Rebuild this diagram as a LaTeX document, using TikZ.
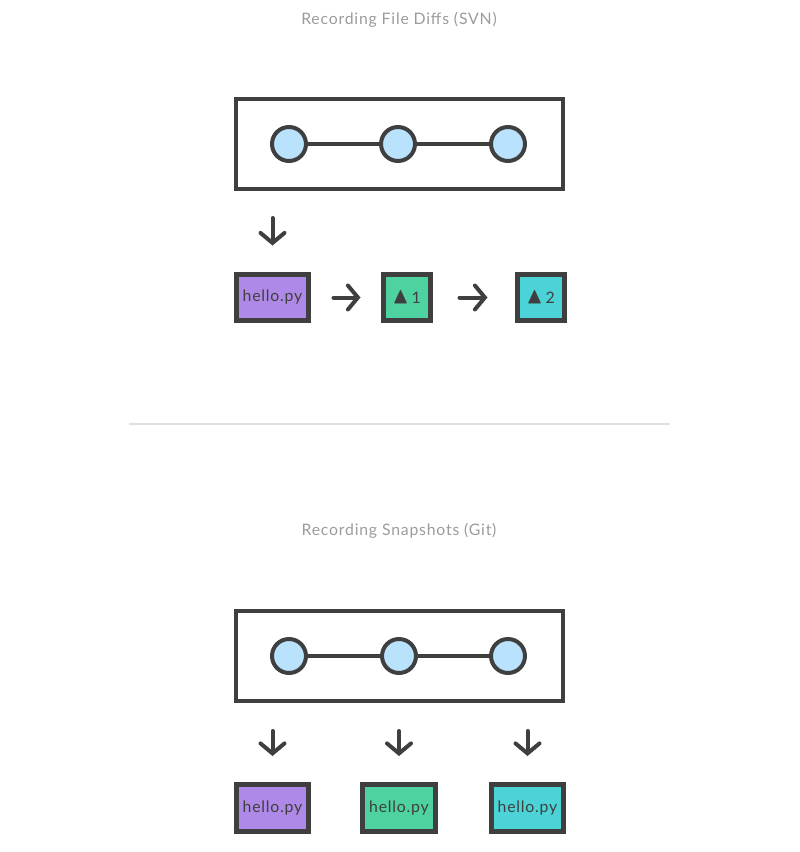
\documentclass[tikz,border=0pt]{standalone}
\usepackage{amssymb}
\usepackage{fontspec}
\setmainfont[LetterSpace=5]{Lato}
\usetikzlibrary{positioning,arrows.meta}
\definecolor{ink}{HTML}{3F3F3F}
\definecolor{dot}{HTML}{B9E3FC}
\definecolor{lilac}{HTML}{AF89E7}
\definecolor{mint}{HTML}{4ED29F}
\definecolor{teal}{HTML}{4CD3D7}
\definecolor{caption}{HTML}{9B9B9B}
\definecolor{rule}{HTML}{E0E0E0}
\newcommand{\tri}{\scalebox{1.45}{$\blacktriangle$}}

\begin{document}
\begin{tikzpicture}[x=0.02cm,y=-0.02cm,
  repo/.style={draw=ink,line width=0.08cm,minimum width=6.54cm,minimum height=1.8cm,inner sep=0pt},
  ver/.style={circle,draw=ink,line width=0.08cm,fill=dot,minimum size=0.68cm,inner sep=0pt},
  file/.style={draw=ink,line width=0.1cm,minimum width=1.46cm,minimum height=0.94cm,inner sep=0pt,text=ink,font=\fontsize{9}{11}\selectfont},
  diff/.style={file,minimum width=0.94cm},
  title/.style={text=caption,font=\fontsize{9}{11}\selectfont},
  arr/.style={-{Straight Barb[length=0.2cm,width=0.48cm,line cap=round]},draw=ink,line width=0.08cm,line cap=round}]
  \useasboundingbox (0,0) rectangle (800,852);
  % SVN
  \node[title] (t1) at (399,20) {Recording File Diffs (SVN)};
  \node[repo] (r1) at (399.5,144) {};
  \node[ver] (a1) at (289,144) {};
  \node[ver] (a2) at (398,144) {};
  \node[ver] (a3) at (508,144) {};
  \draw[ink,line width=0.08cm] (a1) -- (a2) (a2) -- (a3);
  \node[file,fill=lilac] (h1) at (272.5,297.5) {hello.py};
  \node[diff,fill=mint] (d1) at (406.5,297.5) {\tri\,1};
  \node[diff,fill=teal] (d2) at (540.5,297.5) {\tri\,2};
  \draw[arr,shorten <=0.54cm,shorten >=0.52cm] (r1.south -| h1.north) -- (h1.north);
  \draw[arr,shorten <=0.44cm,shorten >=0.4cm] (h1) -- (d1);
  \draw[arr,shorten <=0.54cm,shorten >=0.54cm] (d1) -- (d2);
  % divider
  \coordinate (s1) at (129,424);
  \coordinate (s2) at (670,424);
  \draw[rule,line width=0.03cm] (s1) -- (s2);
  % Git
  \node[title] (t2) at (399,531) {Recording Snapshots (Git)};
  \node[repo] (r2) at (399.5,656) {};
  \node[ver] (b1) at (289,656) {};
  \node[ver] (b2) at (399,656) {};
  \node[ver] (b3) at (508,656) {};
  \draw[ink,line width=0.08cm] (b1) -- (b2) (b2) -- (b3);
  \node[file,fill=lilac] (g1) at (272.5,808) {hello.py};
  \node[file,fill=mint] (g2) at (399,808) {hello.py};
  \node[file,fill=teal] (g3) at (527.5,808) {hello.py};
  \foreach \g in {g1,g2,g3}
    \draw[arr,shorten <=0.56cm,shorten >=0.52cm] (r2.south -| \g.north) -- (\g.north);
\end{tikzpicture}
\end{document}
